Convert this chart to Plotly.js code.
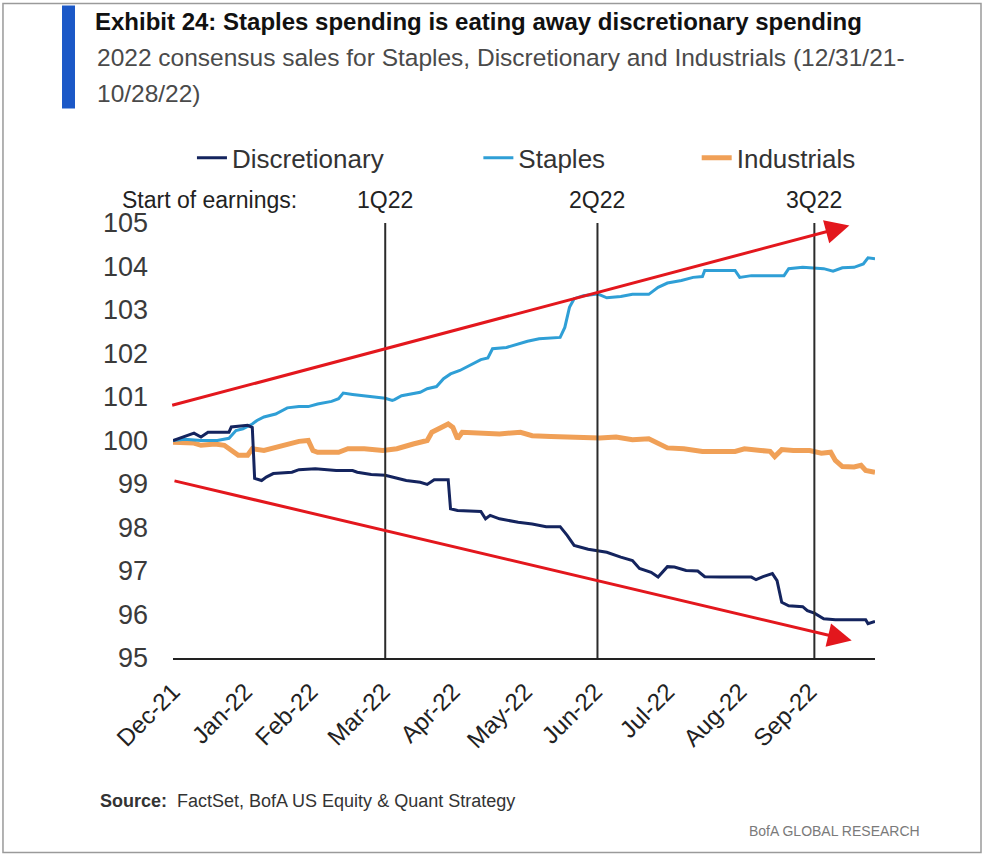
<!DOCTYPE html>
<html><head><meta charset="utf-8">
<script src="https://cdn.plot.ly/plotly-3.0.1.min.js"></script>
<style>html,body{margin:0;padding:0;background:#fff}#chart{width:985px;height:856px}</style>
</head><body><div id="chart"></div>
<script>
// ---- Data ----
const discDates = ['2021-12-31','2022-01-09','2022-01-12','2022-01-15','2022-01-24','2022-01-25','2022-02-01','2022-02-03','2022-02-04','2022-02-06','2022-02-07','2022-02-09','2022-02-12','2022-02-20','2022-02-23','2022-03-02','2022-03-11','2022-03-18','2022-03-20','2022-03-26','2022-04-01','2022-04-07','2022-04-10','2022-04-16','2022-04-19','2022-04-22','2022-04-28','2022-04-29','2022-05-02','2022-05-12','2022-05-14','2022-05-16','2022-05-20','2022-05-28','2022-06-03','2022-06-09','2022-06-15','2022-06-18','2022-06-21','2022-06-27','2022-07-01','2022-07-05','2022-07-11','2022-07-16','2022-07-19','2022-07-24','2022-07-27','2022-07-29','2022-07-31','2022-08-03','2022-08-08','2022-08-13','2022-08-16','2022-08-23','2022-09-05','2022-09-07','2022-09-10','2022-09-14','2022-09-16','2022-09-18','2022-09-21','2022-09-27','2022-09-29','2022-10-02','2022-10-06','2022-10-11','2022-10-24','2022-10-25','2022-10-27','2022-10-28'];
const discValues = [100.0,100.17,100.08,100.19,100.19,100.31,100.35,100.30,99.13,99.10,99.08,99.16,99.24,99.27,99.33,99.35,99.31,99.31,99.27,99.22,99.20,99.12,99.08,99.04,98.99,99.10,99.10,98.43,98.39,98.37,98.20,98.28,98.20,98.12,98.08,98.02,98.02,97.82,97.59,97.50,97.46,97.43,97.32,97.24,97.06,96.97,96.86,96.97,97.10,97.09,97.01,97.00,96.87,96.86,96.86,96.80,96.87,96.94,96.78,96.28,96.20,96.18,96.09,96.03,95.90,95.88,95.88,95.79,95.82,95.84];

const stapDates = ['2021-12-31','2022-01-05','2022-01-12','2022-01-19','2022-01-24','2022-01-27','2022-01-30','2022-02-03','2022-02-05','2022-02-08','2022-02-13','2022-02-16','2022-02-18','2022-02-23','2022-02-27','2022-03-03','2022-03-09','2022-03-12','2022-03-14','2022-03-18','2022-03-23','2022-03-29','2022-04-01','2022-04-04','2022-04-05','2022-04-08','2022-04-12','2022-04-16','2022-04-19','2022-04-23','2022-04-26','2022-04-29','2022-05-03','2022-05-07','2022-05-12','2022-05-15','2022-05-17','2022-05-23','2022-05-28','2022-06-01','2022-06-06','2022-06-15','2022-06-17','2022-06-19','2022-06-21','2022-06-25','2022-07-01','2022-07-05','2022-07-11','2022-07-16','2022-07-23','2022-07-27','2022-07-31','2022-08-06','2022-08-11','2022-08-15','2022-08-16','2022-08-23','2022-08-29','2022-08-31','2022-09-05','2022-09-19','2022-09-21','2022-09-27','2022-10-02','2022-10-06','2022-10-10','2022-10-14','2022-10-19','2022-10-23','2022-10-25','2022-10-28'];
const stapValues = [100.0,100.03,100.0,100.0,100.05,100.23,100.27,100.38,100.46,100.54,100.61,100.69,100.75,100.78,100.78,100.84,100.90,100.96,101.09,101.06,101.03,101.0,100.97,100.92,100.94,101.03,101.07,101.11,101.19,101.24,101.42,101.53,101.61,101.72,101.86,101.90,102.11,102.14,102.22,102.28,102.34,102.37,102.60,103.06,103.26,103.33,103.37,103.28,103.31,103.36,103.36,103.52,103.62,103.68,103.75,103.77,103.91,103.91,103.91,103.75,103.79,103.79,103.95,103.98,103.97,103.95,103.89,103.97,103.98,104.06,104.20,104.18];

const indDates = ['2021-12-31','2022-01-09','2022-01-12','2022-01-18','2022-01-22','2022-01-25','2022-01-28','2022-02-01','2022-02-03','2022-02-08','2022-02-13','2022-02-18','2022-02-23','2022-02-27','2022-03-01','2022-03-03','2022-03-12','2022-03-16','2022-03-23','2022-03-31','2022-04-06','2022-04-13','2022-04-19','2022-04-21','2022-04-24','2022-04-28','2022-04-30','2022-05-02','2022-05-04','2022-05-10','2022-05-20','2022-05-29','2022-06-03','2022-06-11','2022-06-18','2022-06-25','2022-07-02','2022-07-09','2022-07-16','2022-07-23','2022-07-31','2022-08-07','2022-08-15','2022-08-29','2022-09-02','2022-09-09','2022-09-13','2022-09-15','2022-09-18','2022-09-23','2022-09-30','2022-10-05','2022-10-09','2022-10-11','2022-10-14','2022-10-19','2022-10-22','2022-10-24','2022-10-28'];
const indValues = [99.96,99.94,99.89,99.92,99.89,99.77,99.66,99.66,99.81,99.77,99.85,99.92,99.98,100.0,99.77,99.73,99.73,99.81,99.81,99.77,99.81,99.92,100.0,100.19,100.27,100.38,100.30,100.04,100.19,100.17,100.15,100.19,100.11,100.09,100.08,100.09,100.06,100.08,100.02,100.04,99.83,99.81,99.75,99.75,99.81,99.77,99.75,99.63,99.79,99.77,99.77,99.71,99.73,99.54,99.40,99.39,99.43,99.31,99.27];

const seriesNames = ['Discretionary','Staples','Industrials'];

const earningsDates = ['2022-04-01','2022-07-01','2022-10-02'];
const earningsLabels = ['1Q22','2Q22','3Q22'];

// trend arrows: start and end points
const upTrendDates = ['2021-12-30','2022-10-17'];
const upTrendValues = [100.80, 104.94];
const downTrendDates = ['2021-12-31','2022-10-18'];
const downTrendValues = [99.08, 95.40];

const monthTickDates = ['2021-12-31','2022-01-31','2022-02-28','2022-03-31','2022-04-30','2022-05-31','2022-06-30','2022-07-31','2022-08-31','2022-09-30'];
const monthTickLabels = ['Dec-21','Jan-22','Feb-22','Mar-22','Apr-22','May-22','Jun-22','Jul-22','Aug-22','Sep-22'];

// ---- Styling ----
const REG = '"Liberation Sans", Arial, sans-serif';
const C_DISC = '#14245e', C_STAP = '#2f9fd6', C_IND = '#f0a057', C_RED = '#e3171d';

const traces = [
  {x: indDates, y: indValues, name: seriesNames[2], type: 'scatter', mode: 'lines',
   line: {color: C_IND, width: 5}, legend: 'legend3'},
  {x: stapDates, y: stapValues, name: seriesNames[1], type: 'scatter', mode: 'lines',
   line: {color: C_STAP, width: 3}, legend: 'legend2'},
  {x: discDates, y: discValues, name: seriesNames[0], type: 'scatter', mode: 'lines',
   line: {color: C_DISC, width: 3}, legend: 'legend'}
];

const legendBase = {orientation: 'h', xanchor: 'left', yanchor: 'middle', y: 1.15,
  font: {family: REG, size: 26, color: '#333'}, bgcolor: 'rgba(0,0,0,0)'};

const shapes = earningsDates.map(d => ({type: 'line', xref: 'x', yref: 'y', x0: d, x1: d, y0: 95, y1: 105,
  line: {color: '#2b2b2b', width: 2}, layer: 'above'}));
// blue accent bar beside title
shapes.push({type: 'rect', xref: 'paper', yref: 'paper', x0: -0.1581, x1: -0.1396, y0: 1.263, y1: 1.5,
  fillcolor: '#1b58c7', line: {width: 0}});
// outer border
shapes.push({type: 'rect', xref: 'paper', yref: 'paper', x0: -0.2422, x1: 1.151, y0: -0.447, y1: 1.5046,
  line: {color: '#9a9a9a', width: 1.5}, fillcolor: 'rgba(0,0,0,0)'});

const annotations = [];
annotations.push({xref: 'paper', yref: 'paper', x: -0.0755, y: 1.052, xanchor: 'left', yanchor: 'middle',
  text: 'Start of earnings:', showarrow: false, font: {family: REG, size: 23, color: '#222'}});
earningsDates.forEach((d, i) => annotations.push({xref: 'x', yref: 'paper', x: d, y: 1.052, xanchor: 'center', yanchor: 'middle',
  text: earningsLabels[i], showarrow: false, font: {family: REG, size: 23, color: '#222'}}));
annotations.push({xref: 'x', yref: 'y', axref: 'x', ayref: 'y', x: upTrendDates[1], y: upTrendValues[1],
  ax: upTrendDates[0], ay: upTrendValues[0], text: '', showarrow: true, arrowhead: 2, arrowsize: 1.6, arrowwidth: 3, arrowcolor: C_RED, standoff: 0});
annotations.push({xref: 'x', yref: 'y', axref: 'x', ayref: 'y', x: downTrendDates[1], y: downTrendValues[1],
  ax: downTrendDates[0], ay: downTrendValues[0], text: '', showarrow: true, arrowhead: 2, arrowsize: 1.6, arrowwidth: 3, arrowcolor: C_RED, standoff: 0});
// subtitle lines
annotations.push({xref: 'paper', yref: 'paper', x: -0.1111, y: (657.5 - 57) / 435, xanchor: 'left', yanchor: 'middle',
  text: '2022 consensus sales for Staples, Discretionary and Industrials (12/31/21-', showarrow: false,
  font: {family: REG, size: 24.5, color: '#4a4a4a'}});
annotations.push({xref: 'paper', yref: 'paper', x: -0.1111, y: (657.5 - 93) / 435, xanchor: 'left', yanchor: 'middle',
  text: '10/28/22)', showarrow: false, font: {family: REG, size: 24.5, color: '#4a4a4a'}});
// footer
annotations.push({xref: 'paper', yref: 'paper', x: -0.1068, y: (657.5 - 800) / 435, xanchor: 'left', yanchor: 'middle',
  text: '<b>Source:</b>  FactSet, BofA US Equity &amp; Quant Strategy', showarrow: false,
  font: {family: REG, size: 18, color: '#333'}});
annotations.push({xref: 'paper', yref: 'paper', x: (922 - 173) / 702, y: (657.5 - 830) / 435, xanchor: 'right', yanchor: 'middle',
  text: 'BofA GLOBAL RESEARCH', showarrow: false, font: {family: REG, size: 14, color: '#7a7a7a'}});

const layout = {
  width: 985, height: 856,
  margin: {l: 173, r: 110, t: 223, b: 198},
  paper_bgcolor: '#fff', plot_bgcolor: '#fff',
  title: {text: '<b>Exhibit 24: Staples spending is eating away discretionary spending</b>',
    font: {family: REG, size: 24, color: '#111'},
    xref: 'container', yref: 'container', x: 95 / 985, xanchor: 'left', y: 1 - 22 / 856, yanchor: 'middle'},
  xaxis: {type: 'date', range: ['2021-12-31', '2022-10-28'], showgrid: false, zeroline: false,
    showline: true, linecolor: '#222', linewidth: 2, ticks: '',
    tickmode: 'array', tickvals: monthTickDates, ticktext: monthTickLabels, tickangle: -45,
    ticklabelstandoff: 8,
    tickfont: {family: REG, size: 24, color: '#222'}},
  yaxis: {range: [95, 105], dtick: 1, tick0: 95, showgrid: false, zeroline: false, showline: false, ticks: '',
    ticklabelstandoff: 24, tickfont: {family: REG, size: 27, color: '#3a3a3a'}},
  legend: Object.assign({}, legendBase, {x: 0.027}),
  legend2: Object.assign({}, legendBase, {x: 0.435}),
  legend3: Object.assign({}, legendBase, {x: 0.746}),
  shapes: shapes,
  annotations: annotations,
  showlegend: true
};

Plotly.newPlot('chart', traces, layout, {displayModeBar: false, staticPlot: true});
</script></body></html>
